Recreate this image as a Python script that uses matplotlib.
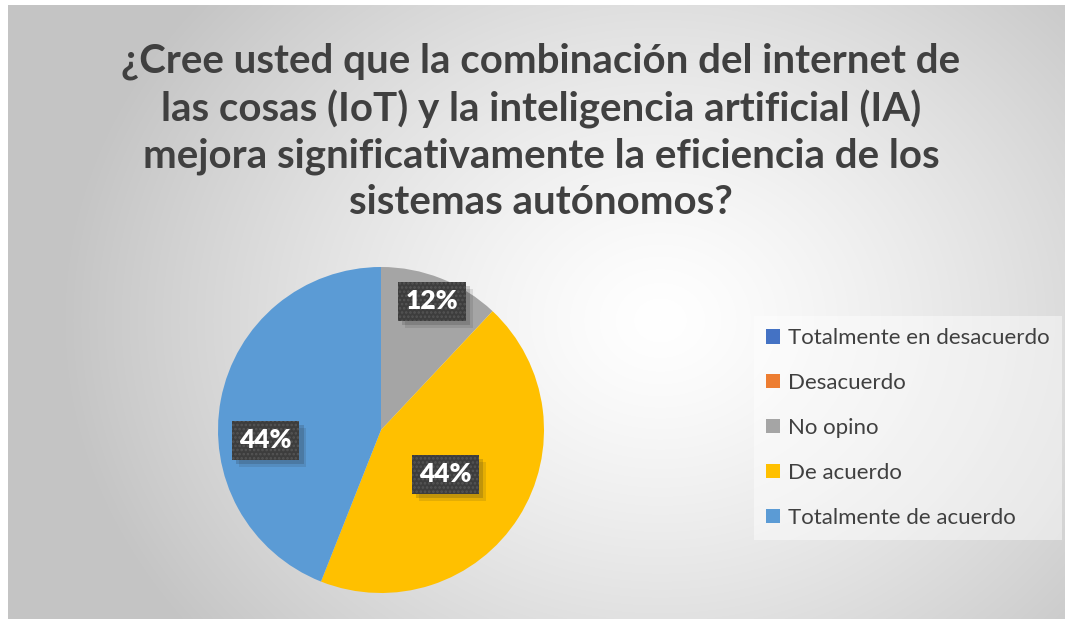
import numpy as np
import matplotlib.pyplot as plt
from matplotlib.patches import Patch
import matplotlib.patheffects as pe

# Datos de la encuesta (porcentajes)
categorias = ['Totalmente en desacuerdo', 'Desacuerdo', 'No opino',
              'De acuerdo', 'Totalmente de acuerdo']
valores = [0, 0, 12, 44, 44]
colores = ['#4472C4', '#ED7D31', '#A5A5A5', '#FFC000', '#5B9BD5']
titulo = ('¿Cree usted que la combinación del internet de\n'
          'las cosas (IoT) y la inteligencia artificial (IA)\n'
          'mejora significativamente la eficiencia de los\n'
          'sistemas autónomos?')


# Sombra suave para las cajas de las etiquetas (sin el tramado)
class Sombra(pe.AbstractPathEffect):
    def __init__(self, offset, alpha):
        super().__init__(offset)
        self.alpha = alpha

    def draw_path(self, renderer, gc, tpath, affine, rgbFace):
        gc0 = renderer.new_gc()
        gc0.copy_properties(gc)
        gc0.set_hatch(None)
        gc0.set_linewidth(0)
        gc0.set_alpha(self.alpha)
        renderer.draw_path(gc0, tpath, affine + self._offset_transform(renderer),
                           (0.15, 0.15, 0.15))
        gc0.restore()


W, H = 1065, 619
plt.rcParams['font.family'] = ['Lato', 'DejaVu Sans']
plt.rcParams['hatch.linewidth'] = 1.2
fig = plt.figure(figsize=(W / 100, H / 100), dpi=100)

# Fondo con degradado radial (estilo Excel)
bg = fig.add_axes([0, 0, 1, 1])
yy, xx = np.mgrid[0:H, 0:W]
d = np.sqrt(((xx - 660) / 620.0) ** 2 + ((yy - 320) / 520.0) ** 2)
g = np.clip(1.0 - 0.24 * d ** 1.3, 0.77, 1.0)
img = np.dstack([g, g, g])
img[:5, :, :] = 1.0
img[:, :8, :] = 1.0
bg.imshow(img, extent=[0, W, H, 0], aspect='auto', interpolation='bilinear')
bg.set_xlim(0, W)
bg.set_ylim(H, 0)
bg.axis('off')

fig.text(541 / W, 1 - 132 / H, titulo, ha='center', va='center',
         fontsize=29, fontweight='bold', color='#404040', linespacing=1.3)

# Pastel
cx, cy, r = 381, 430, 163
ax = fig.add_axes([(cx - r) / W, 1 - (cy + r) / H, 2 * r / W, 2 * r / H])
wedges, _, autotexts = ax.pie(valores, colors=colores, startangle=90,
                              counterclock=False, radius=1.0,
                              autopct=lambda p: f'{p:.0f}%' if p > 0 else '',
                              pctdistance=0.6,
                              wedgeprops=dict(linewidth=0))
ax.set_xlim(-1, 1)
ax.set_ylim(-1, 1)
ax.axis('off')

# Distancia de cada etiqueta al centro (relativa al radio)
dist_etiq = [0.6, 0.6, 0.85, 0.48, 0.71]
ang_extra = [0, 0, 0, -2, 16]
for w, t, dd, da in zip(wedges, autotexts, dist_etiq, ang_extra):
    if not t.get_text():
        continue
    ang = np.deg2rad((w.theta1 + w.theta2) / 2 + da)
    t.set_position((dd * np.cos(ang), dd * np.sin(ang)))
    t.set_color('white')
    t.set_fontweight('heavy')
    t.set_fontsize(19)
    t.set_bbox(dict(boxstyle='square,pad=0.28', facecolor='#3d3d3d',
                    edgecolor='#555555', linewidth=0, hatch='....'))
    t.get_bbox_patch().set_path_effects(
        [Sombra((5, -5), 0.12), Sombra((3, -3), 0.18), pe.Normal()])

# Leyenda
handles = [Patch(facecolor=c, edgecolor='none') for c in colores]
leg = fig.legend(handles, categorias, loc='upper left',
                 bbox_to_anchor=(754 / W, 1 - 316 / H), borderaxespad=0,
                 frameon=True, fancybox=False, fontsize=16,
                 handlelength=0.62, handleheight=0.62, handletextpad=0.35,
                 labelspacing=1.12, borderpad=0.55, labelcolor='#404040')
leg.get_frame().set_facecolor('white')
leg.get_frame().set_alpha(0.45)
leg.get_frame().set_linewidth(0)

fig.savefig('out.png', dpi=100)
